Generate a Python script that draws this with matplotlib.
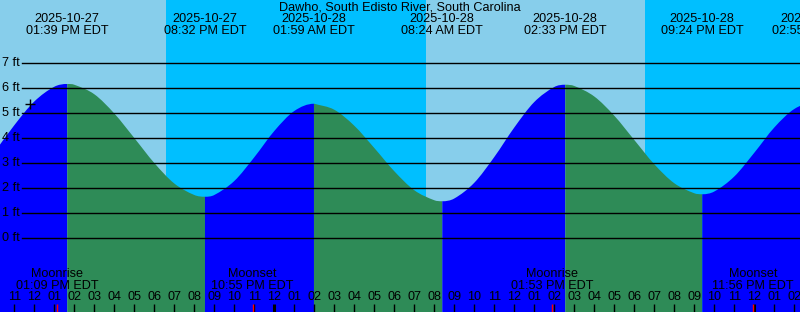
import pandas as pd
import matplotlib
matplotlib.use("Agg")
import matplotlib.pyplot as plt
from matplotlib.path import Path
from matplotlib.patches import PathPatch

plt.rcParams["font.family"] = ["Liberation Sans", "DejaVu Sans"]

TITLE = "Dawho, South Edisto River, South Carolina"
BASE = pd.Timestamp("2025-10-27 00:00")

# hourly tide heights (ft), starting 2025-10-27 10:00
hourly_start = "2025-10-27 10:00"
hourly_ft = [3.42, 4.51, 5.46, 6.05, 6.13, 5.75, 4.98, 4.00, 3.00, 2.18,
             1.72, 1.72, 2.28, 3.23, 4.28, 5.08, 5.37, 5.13, 4.49, 3.60,
             2.67, 1.91, 1.51, 1.58, 2.21, 3.24, 4.42, 5.44, 6.04, 6.08,
             5.66, 4.89, 3.92, 2.95, 2.19, 1.79, 1.86, 2.46, 3.41, 4.42,
             5.16, 5.39]

# high / low tides
tide_times = ["2025-10-27 13:39", "2025-10-27 20:32", "2025-10-28 01:59",
              "2025-10-28 08:24", "2025-10-28 14:33", "2025-10-28 21:24",
              "2025-10-29 02:55"]
tide_ft = [6.16, 1.65, 5.37, 1.47, 6.13, 1.75, 5.40]
tide_type = ["H", "L", "H", "L", "H", "L", "H"]

# moon
moon_events = ["Moonrise", "Moonset", "Moonrise", "Moonset"]
moon_times = ["2025-10-27 13:09", "2025-10-27 22:55",
              "2025-10-28 13:53", "2025-10-28 23:56"]

# night (sunset -> sunrise)
night_start = ["2025-10-27 18:35", "2025-10-28 18:32"]
night_end = ["2025-10-28 07:35", "2025-10-29 07:36"]

now_time = "2025-10-27 11:47"
now_ft = 5.36

feet_levels = [0, 1, 2, 3, 4, 5, 6, 7]


def hrs(s):
    return (pd.Timestamp(s) - BASE) / pd.Timedelta(hours=1)


# merge hourly + extrema into one series
t0 = hrs(hourly_start)
ext_t = [hrs(t) for t in tide_times]
pts = [(t0 + i, h) for i, h in enumerate(hourly_ft)]
pts += list(zip(ext_t, tide_ft))
pts.sort()
ser_t = [p[0] for p in pts]
ser_h = [p[1] for p in pts]

# slopes for a smooth (hermite) outline; flat at highs and lows
slopes = []
for i, (t, h) in enumerate(pts):
    if t in ext_t:
        slopes.append(0.0)
    elif i == 0:
        slopes.append((ser_h[1] - h) / (ser_t[1] - t))
    elif i == len(pts) - 1:
        slopes.append((h - ser_h[i - 1]) / (t - ser_t[i - 1]))
    else:
        slopes.append((ser_h[i + 1] - ser_h[i - 1]) / (ser_t[i + 1] - ser_t[i - 1]))

X0 = 11 - 14.3 / 20
X1 = X0 + 40
W, H = 800, 312
Y0 = (238 - H) / 25
Y1 = 238 / 25

fig = plt.figure(figsize=(8, 3.12), dpi=100)
ax = fig.add_axes([0, 0, 1, 1])
ax.set_xlim(X0, X1)
ax.set_ylim(Y0, Y1)
ax.axis("off")

# sky
ax.axvspan(X0 - 5, X1 + 5, color="#87CEEB", lw=0, zorder=0)
for a, b in zip(night_start, night_end):
    ax.axvspan(hrs(a), hrs(b), color="#00BFFF", lw=0, zorder=0)

# tide fill: blue rising, green falling
bounds = [ser_t[0]] + ext_t + [ser_t[-1]]
kinds = tide_type + ["L"]
for k in range(len(bounds) - 1):
    a, b = bounds[k], bounds[k + 1]
    idx = [i for i, t in enumerate(ser_t) if a <= t <= b]
    if len(idx) < 2:
        continue
    verts = [(ser_t[idx[0]], Y0 - 1), (ser_t[idx[0]], ser_h[idx[0]])]
    codes = [Path.MOVETO, Path.LINETO]
    for i, j in zip(idx[:-1], idx[1:]):
        dt = ser_t[j] - ser_t[i]
        verts += [(ser_t[i] + dt / 3, ser_h[i] + slopes[i] * dt / 3),
                  (ser_t[j] - dt / 3, ser_h[j] - slopes[j] * dt / 3),
                  (ser_t[j], ser_h[j])]
        codes += [Path.CURVE4] * 3
    verts += [(ser_t[idx[-1]], Y0 - 1), (ser_t[idx[0]], Y0 - 1)]
    codes += [Path.LINETO, Path.CLOSEPOLY]
    col = "#0000FF" if kinds[k] == "H" else "#2E8B57"
    ax.add_patch(PathPatch(Path(verts, codes), facecolor=col, lw=0, zorder=1))

fs = 9.1

# grid lines + labels
for f in feet_levels:
    ax.axhline(f, xmin=22 / W, xmax=1, color="black", lw=1.0, zorder=2)
    ax.text(2 / W, f, f"{f} ft", transform=ax.get_yaxis_transform(),
            ha="left", va="center", fontsize=fs, zorder=3)

xt = ax.get_xaxis_transform()

ax.text(0.5, 1 - 8 / H, TITLE, transform=ax.transAxes, ha="center",
        va="center", fontsize=fs, zorder=3)

for t in tide_times:
    ts = pd.Timestamp(t)
    x = hrs(t)
    ax.text(x, 1 - 19 / H, ts.strftime("%Y-%m-%d"), transform=xt,
            ha="center", va="center", fontsize=fs, zorder=3)
    ax.text(x, 1 - 31 / H, ts.strftime("%I:%M %p EDT"), transform=xt,
            ha="center", va="center", fontsize=fs, zorder=3)

for name, t in zip(moon_events, moon_times):
    ts = pd.Timestamp(t)
    x = hrs(t)
    ax.text(x, 1 - 274 / H, name, transform=xt, ha="center", va="center",
            fontsize=fs, zorder=3)
    ax.text(x, 1 - 286 / H, ts.strftime("%I:%M %p EDT"), transform=xt,
            ha="center", va="center", fontsize=fs, zorder=3)

# hour ticks
for hr in range(11, 51):
    lab = f"{(hr % 12) or 12:02d}"
    ax.text(hr, 1 - 297 / H, lab, transform=xt, ha="center", va="center",
            fontsize=fs, zorder=3)
    lw = 2.2 if hr % 24 == 0 else 1.0
    ax.vlines(hr, 0, 8 / H, transform=xt, color="black", lw=lw, zorder=3)
for t in moon_times:
    ax.vlines(hrs(t), 0, 8 / H, transform=xt, color="red", lw=1.0, zorder=3)

ax.plot([hrs(now_time)], [now_ft], marker="+", color="black", ms=7,
        mew=1.0, zorder=4)

fig.savefig("out.png", dpi=100)
